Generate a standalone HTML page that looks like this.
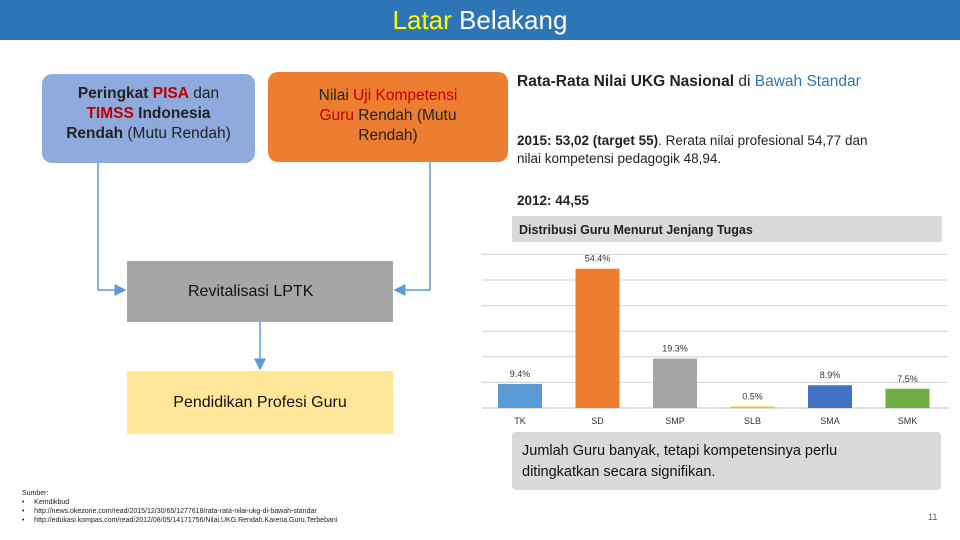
<!DOCTYPE html>
<html><head><meta charset="utf-8"><style>
body{margin:0;width:960px;height:540px;position:relative;background:#fff;font-family:"Liberation Sans",sans-serif;overflow:hidden}
.abs{position:absolute}
.box{position:absolute;display:flex;align-items:center;justify-content:center;text-align:center;box-sizing:border-box}
.red{color:#c00000}
</style></head><body>
<div class="abs" style="left:0;top:0;width:960px;height:40px;background:#2e75b6;text-align:center;font-size:26px;line-height:40px;color:#fff"><span style="color:#ffff00">Latar</span> Belakang</div>

<div class="box" style="left:42px;top:74px;width:213px;height:89px;background:#8faadc;border-radius:10px;font-size:15.5px;line-height:20px;color:#222;padding-bottom:10px"><div><b>Peringkat <span class="red">PISA</span></b> dan<br><b><span class="red">TIMSS</span> Indonesia</b><br><b>Rendah</b> (Mutu Rendah)</div></div>
<div class="box" style="left:268px;top:72px;width:240px;height:90px;background:#ed7d31;border-radius:10px;font-size:15.5px;line-height:20px;color:#222;align-items:flex-start;padding-top:14px"><div>Nilai <span class="red">Uji Kompetensi</span><br><span class="red">Guru</span> Rendah (Mutu<br>Rendah)</div></div>

<svg class="abs" style="left:0;top:0" width="960" height="540">
<defs><marker id="ar" markerWidth="8" markerHeight="8" refX="7" refY="4" orient="auto"><path d="M0,0L8,4L0,8z" fill="#5b9bd5"/></marker></defs>
<path d="M98,163V290H125" stroke="#5b9bd5" stroke-width="1.5" fill="none" marker-end="url(#ar)"/>
<path d="M430,162V290H395" stroke="#5b9bd5" stroke-width="1.5" fill="none" marker-end="url(#ar)"/>
<path d="M260,322V369" stroke="#5b9bd5" stroke-width="1.5" fill="none" marker-end="url(#ar)"/>
</svg>
<div class="box" style="left:127px;top:261px;width:266px;height:61px;background:#a6a6a6;font-size:16px;color:#111;justify-content:flex-start;padding-left:61px">Revitalisasi LPTK</div>
<div class="box" style="left:127px;top:371px;width:266px;height:63px;background:#ffe699;font-size:16px;color:#111">Pendidikan Profesi Guru</div>

<div class="abs" style="left:517px;top:73px;font-size:15.5px;color:#222;white-space:nowrap"><b>Rata-Rata Nilai UKG Nasional</b> di <span style="color:#2e75b6">Bawah Standar</span></div>
<div class="abs" style="left:517px;top:132px;width:420px;font-size:13.5px;line-height:18px;color:#222"><b>2015: 53,02 (target 55)</b>. Rerata nilai profesional 54,77 dan<br>nilai kompetensi pedagogik 48,94.</div>
<div class="abs" style="left:517px;top:193px;font-size:13.5px;color:#222"><b>2012: 44,55</b></div>

<div class="abs" style="left:512px;top:216px;width:430px;height:26px;background:#d9d9d9;font-size:12.5px;font-weight:bold;line-height:28px;padding-left:7px;box-sizing:border-box;color:#222">Distribusi Guru Menurut Jenjang Tugas</div>
<svg id="chart" class="abs" style="left:0;top:0" width="960" height="540"></svg>

<div class="abs" style="left:512px;top:432px;width:429px;height:58px;background:#d9d9d9;border-radius:4px;font-size:14.5px;line-height:21px;padding:9px 10px;box-sizing:border-box;color:#111">Jumlah Guru banyak, tetapi kompetensinya perlu<br>ditingkatkan secara signifikan.</div>

<div class="abs" style="left:22px;top:489px;font-size:7px;line-height:9px;color:#222">Sumber:<br>•&nbsp;&nbsp;&nbsp;&nbsp;&nbsp;Kemdikbud<br>•&nbsp;&nbsp;&nbsp;&nbsp;&nbsp;http://news.okezone.com/read/2015/12/30/65/1277618/rata-rata-nilai-ukg-di-bawah-standar<br>•&nbsp;&nbsp;&nbsp;&nbsp;&nbsp;http://edukasi.kompas.com/read/2012/08/05/14171756/Nilai.UKG.Rendah.Karena.Guru.Terbebani</div>
<div class="abs" style="left:928px;top:512px;font-size:9px;color:#555">11</div>

<script>
const categories=["TK","SD","SMP","SLB","SMA","SMK"];
const values=[9.4,54.4,19.3,0.5,8.9,7.5];
const valueLabels=["9.4%","54.4%","19.3%","0.5%","8.9%","7.5%"];
const gridTicks=[0,10,20,30,40,50,60];
const colors=["#5b9bd5","#ed7d31","#a5a5a5","#ffc000","#4472c4","#70ad47"];
const svg=document.getElementById('chart');const NS="http://www.w3.org/2000/svg";
const y=v=>408-v*2.56;const x=i=>520+i*77.5;
gridTicks.forEach(t=>{const l=document.createElementNS(NS,'line');


l.setAttribute('x1',482);l.setAttribute('x2',948);l.setAttribute('y1',y(t));l.setAttribute('y2',y(t));l.setAttribute('stroke',t===0?'#bbb':'#d0d0d0');svg.appendChild(l);});
categories.forEach((c,i)=>{const r=document.createElementNS(NS,'rect');


const h=Math.max(408-y(values[i]),1.5);r.setAttribute('x',x(i)-22);r.setAttribute('width',44);r.setAttribute('y',408-h);r.setAttribute('height',h);r.setAttribute('fill',colors[i]);svg.appendChild(r);
const t=document.createElementNS(NS,'text');


t.setAttribute('x',x(i));t.setAttribute('y',408-h-7);t.setAttribute('text-anchor','middle');t.setAttribute('font-size','9');t.setAttribute('fill','#333');t.textContent=valueLabels[i];svg.appendChild(t);
const a=document.createElementNS(NS,'text');


a.setAttribute('x',x(i));a.setAttribute('y',424);a.setAttribute('text-anchor','middle');a.setAttribute('font-size','9');a.setAttribute('fill','#333');a.textContent=c;svg.appendChild(a);});
</script>
</body></html>
